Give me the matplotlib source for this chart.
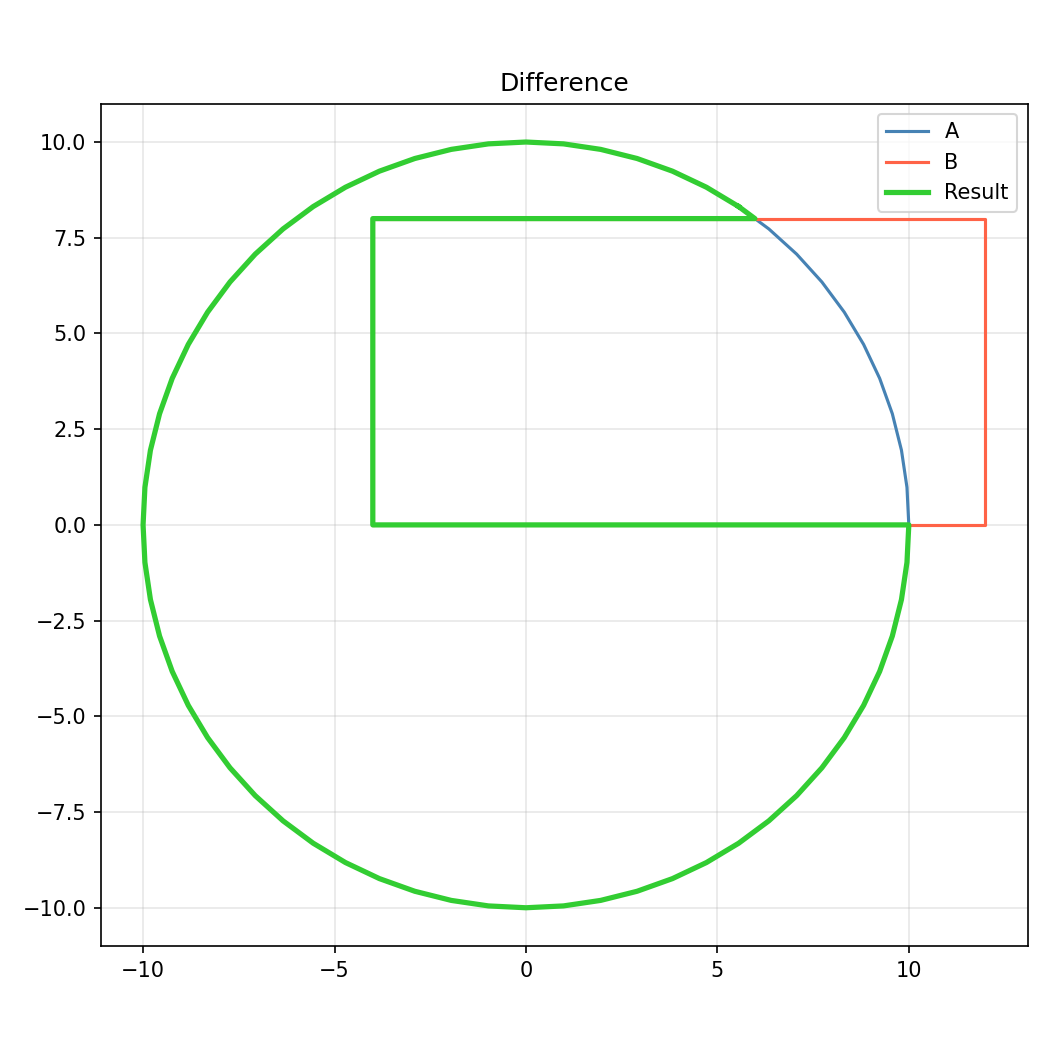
import numpy as np
import matplotlib
matplotlib.use("Agg")
import matplotlib.pyplot as plt

# Shape A: circle of radius 10 (polygon with 64 segments)
circle_radius = 10.0
circle_segments = 64
# Shape B: rectangle corners
rect_x = [-4, 12, 12, -4, -4]
rect_y = [0, 0, 8, 8, 0]

ang = np.linspace(0, 2 * np.pi, circle_segments + 1)
ax_x = circle_radius * np.cos(ang)
ax_y = circle_radius * np.sin(ang)

# Result = A minus B
top = 8.0
# find edge crossing y=8 on upper right
idx = np.where((ax_y[:-1] < top) & (ax_y[1:] >= top))[0][0]
t = (top - ax_y[idx]) / (ax_y[idx + 1] - ax_y[idx])
xint = ax_x[idx] + t * (ax_x[idx + 1] - ax_x[idx])
res_x = list(ax_x[idx + 1:]) + [-4, -4, xint, ax_x[idx + 1]]
res_y = list(ax_y[idx + 1:]) + [0, 8, 8, ax_y[idx + 1]]

fig, ax = plt.subplots(figsize=(7, 7), dpi=150)
ax.plot(ax_x, ax_y, color="steelblue", lw=1.5, label="A")
ax.plot(rect_x, rect_y, color="tomato", lw=1.5, label="B")
ax.plot(res_x, res_y, color="limegreen", lw=2.5, label="Result")
ax.set_aspect("equal")
ax.grid(True, alpha=0.3)
ax.set_title("Difference")
ax.legend(loc="upper right")
fig.tight_layout()
fig.savefig("out.png")
